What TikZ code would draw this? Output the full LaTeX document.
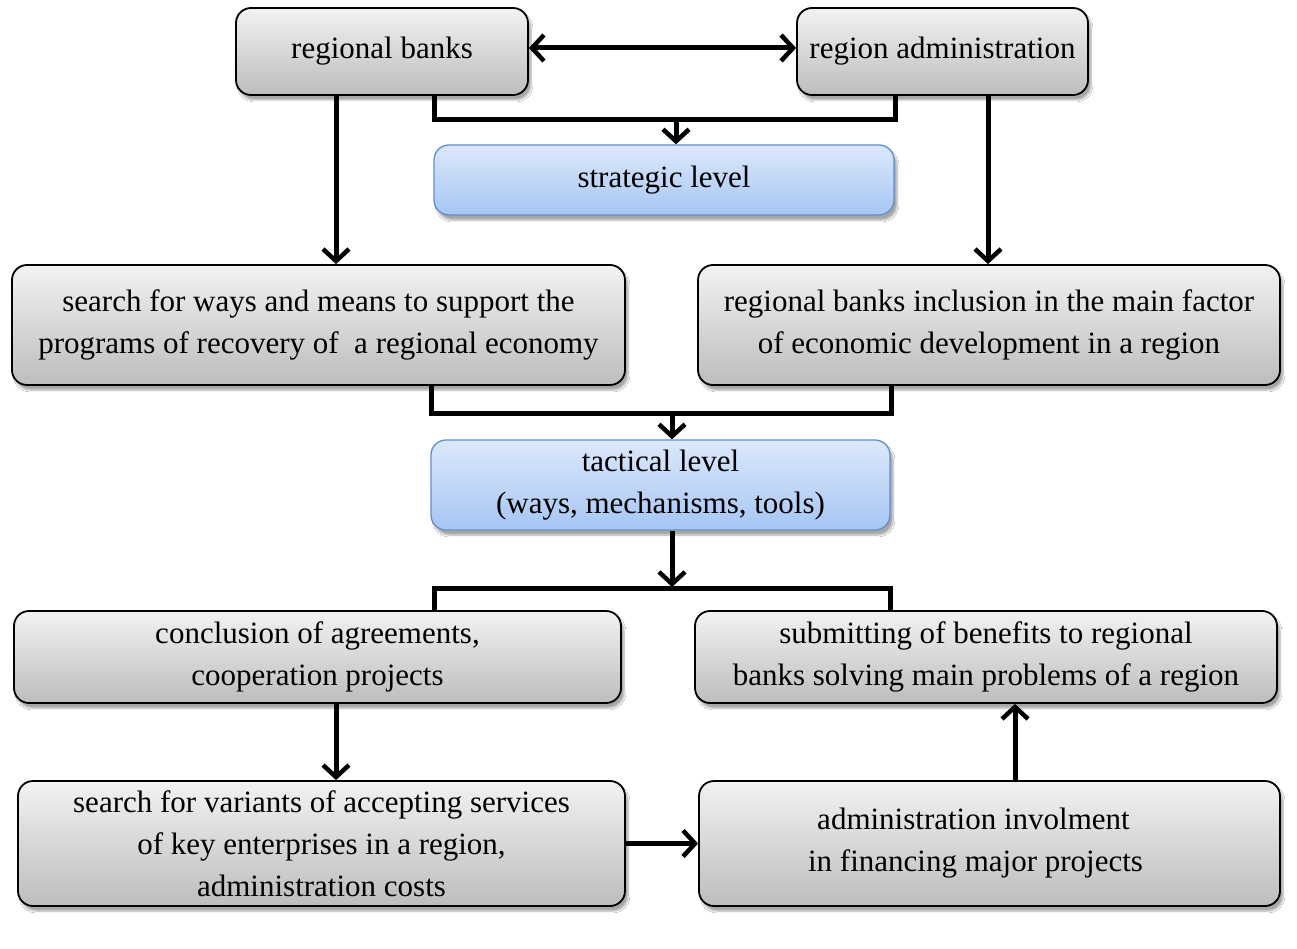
\documentclass[tikz,border=0pt]{standalone}
\usepackage{fontspec}
\setmainfont{Liberation Serif}
\usetikzlibrary{arrows.meta,shadows.blur,calc}
\definecolor{gtop}{HTML}{F2F2F2}
\definecolor{gbot}{HTML}{BDBDBD}
\definecolor{btop}{HTML}{DCE8FB}
\definecolor{bbot}{HTML}{A6C6F4}
\definecolor{bdraw}{HTML}{5E8FD2}
\tikzset{
  graybox/.style={draw=black, line width=1.8pt, rounded corners=15pt,
    top color=gtop, bottom color=gbot, align=center, inner sep=0pt,
    font=\fontsize{31}{42}\selectfont,
    blur shadow={shadow xshift=3pt, shadow yshift=-5pt, shadow blur steps=6, shadow opacity=35}},
  bluebox/.style={graybox, draw=bdraw, line width=1.3pt, top color=btop, bottom color=bbot},
  conn/.style={line width=5pt, draw=black},
  tip/.tip={Straight Barb[length=12pt,width=26pt,line width=4.5pt]},
  arr/.style={conn, -tip},
  darr/.style={conn, tip-tip},
}
\begin{document}
\begin{tikzpicture}[x=1pt,y=-1pt]
\useasboundingbox[fill=white] (0,0) rectangle (1297,949);

\node[graybox, minimum width=292pt, minimum height=87pt] (rb) at (382,51.5) {regional banks};
\node[graybox, minimum width=291pt, minimum height=87pt] (ra) at (942.5,51.5) {region administration};
\node[bluebox, minimum width=460pt, minimum height=70pt] (sl) at (664,180) {\raisebox{3pt}{strategic level}};
\node[graybox, minimum width=613pt, minimum height=120pt] (sw) at (318.5,325) {search for ways and means to support the\\programs of recovery of\ \ a regional economy};
\node[graybox, minimum width=582pt, minimum height=120pt] (ri) at (989,325) {regional banks inclusion in the main factor\\of economic development in a region};
\node[bluebox, minimum width=459pt, minimum height=90pt] (tl) at (660.5,485) {tactical level\\(ways, mechanisms, tools)};
\node[graybox, minimum width=607pt, minimum height=92pt] (ca) at (317.5,657) {conclusion of agreements,\\cooperation projects};
\node[graybox, minimum width=582pt, minimum height=92pt] (sb) at (986,657) {submitting of benefits to regional\\banks solving main problems of a region};
\node[graybox, minimum width=607pt, minimum height=125pt] (sv) at (321.5,843.5) {search for variants of accepting services\\of key enterprises in a region,\\administration costs};
\node[graybox, minimum width=581pt, minimum height=125pt] (ai) at (989.5,843.5) {administration involment\hspace*{32pt}\\in financing major projects\hspace*{28pt}};

% connectors
\draw[darr] (rb.east |- 0,48) -- (ra.west |- 0,48);
\coordinate (j1) at (676,120);
\draw[conn] (rb.south -| 434,0) -- (434,120) -- (895,120) -- (ra.south -| 895,0);
\draw[arr] (j1) -- (sl.north -| j1);
\draw[arr] (rb.south -| 336,0) -- (sw.north -| 336,0);
\draw[arr] (ra.south -| 988,0) -- (ri.north -| 988,0);
\coordinate (j2) at (672,413);
\draw[conn] (sw.south -| 431,0) -- (431,413) -- (891,413) -- (ri.south -| 891,0);
\draw[arr] (j2) -- (tl.north -| j2);
\coordinate (j3) at (672,587);
\draw[arr] (tl.south -| j3) -- (j3);
\draw[conn] (ca.north -| 434,0) -- (434,588) -- (890,588) -- (sb.north -| 890,0);
\draw[arr] (ca.south -| 336,0) -- (sv.north -| 336,0);
\draw[arr] (sv.east) -- (ai.west);
\draw[arr] (ai.north -| 1015,0) -- (sb.south -| 1015,0);
\end{tikzpicture}
\end{document}
